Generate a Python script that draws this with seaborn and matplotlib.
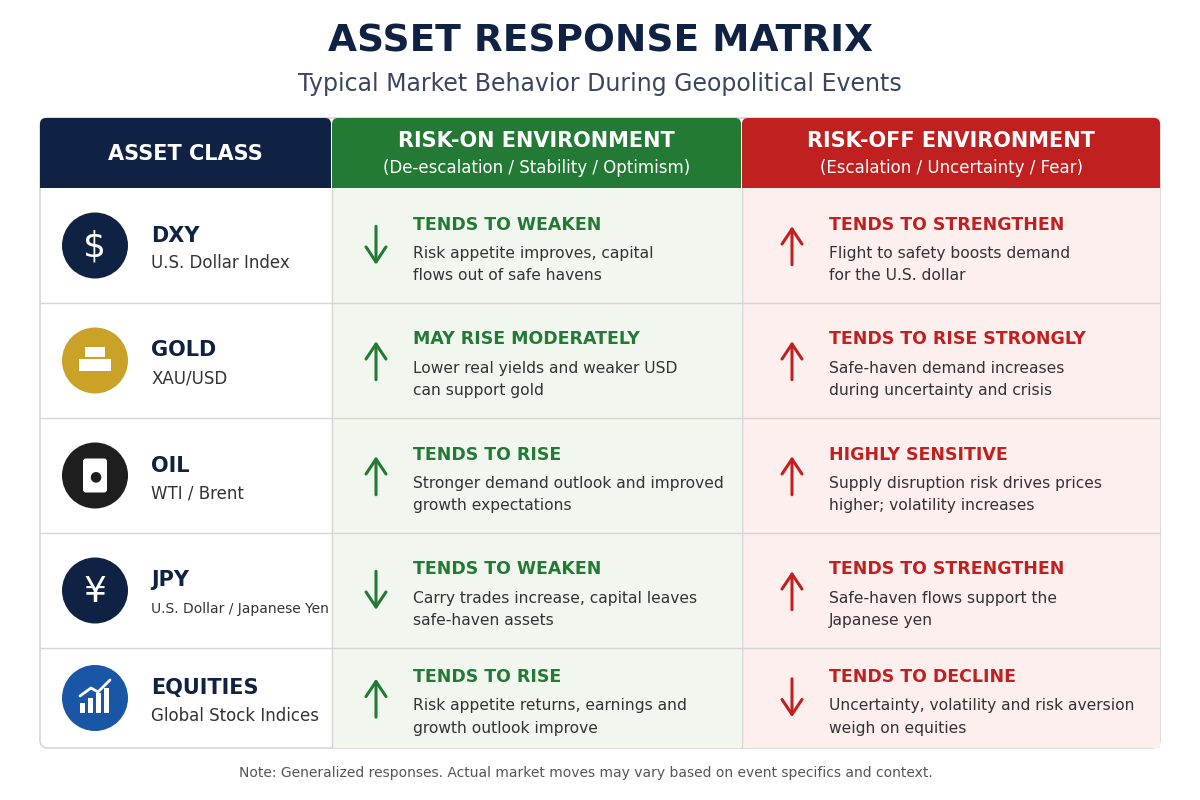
import matplotlib
matplotlib.use("Agg")
import matplotlib.pyplot as plt
from matplotlib.patches import FancyBboxPatch, Rectangle, Circle
import seaborn as sns

##### DADOS #####################################################################
ativos = ["DXY", "GOLD", "OIL", "JPY", "EQUITIES"]
subtitulos = ["U.S. Dollar Index", "XAU/USD", "WTI / Brent",
              "U.S. Dollar / Japanese Yen", "Global Stock Indices"]
icones = ["$", "gold", "oil", "¥", "chart"]
cor_icone = ["#0f2244", "#c9a227", "#1e1e1e", "#0f2244", "#1a56a6"]
on_dir = ["down", "up", "up", "down", "up"]
on_titulo = ["TENDS TO WEAKEN", "MAY RISE MODERATELY", "TENDS TO RISE",
             "TENDS TO WEAKEN", "TENDS TO RISE"]
on_texto = ["Risk appetite improves, capital\nflows out of safe havens",
            "Lower real yields and weaker USD\ncan support gold",
            "Stronger demand outlook and improved\ngrowth expectations",
            "Carry trades increase, capital leaves\nsafe-haven assets",
            "Risk appetite returns, earnings and\ngrowth outlook improve"]
off_dir = ["up", "up", "up", "up", "down"]
off_titulo = ["TENDS TO STRENGTHEN", "TENDS TO RISE STRONGLY", "HIGHLY SENSITIVE",
              "TENDS TO STRENGTHEN", "TENDS TO DECLINE"]
off_texto = ["Flight to safety boosts demand\nfor the U.S. dollar",
             "Safe-haven demand increases\nduring uncertainty and crisis",
             "Supply disruption risk drives prices\nhigher; volatility increases",
             "Safe-haven flows support the\nJapanese yen",
             "Uncertainty, volatility and risk aversion\nweigh on equities"]

##### ESTILO ####################################################################
sns.set_theme(style="white")
plt.rcParams["font.family"] = ["DejaVu Sans"]
NAVY, VERDE, VERMELHO = "#0f2244", "#237a35", "#c0201f"
TXT = "#333333"

fig = plt.figure(figsize=(12, 8), dpi=100)
ax = fig.add_axes([0, 0, 1, 1])
ax.set_xlim(0, 1200)
ax.set_ylim(800, 0)
ax.axis("off")

ax.text(600, 42, "ASSET RESPONSE MATRIX", ha="center", va="center",
        fontsize=27, weight="bold", color=NAVY)
ax.text(600, 84, "Typical Market Behavior During Geopolitical Events",
        ha="center", va="center", fontsize=17, color="#3a4660")

# moldura
ax.add_patch(FancyBboxPatch((40, 118), 1120, 630, boxstyle="round,pad=0,rounding_size=8",
                            fc="white", ec="#d5d5d5", lw=1.2, zorder=0))
cols = [(40, 331), (332, 741), (742, 1160)]
headers = [(NAVY, "ASSET CLASS", None),
           (VERDE, "RISK-ON ENVIRONMENT", "(De-escalation / Stability / Optimism)"),
           (VERMELHO, "RISK-OFF ENVIRONMENT", "(Escalation / Uncertainty / Fear)")]
for (x0, x1), (cor, t, s) in zip(cols, headers):
    ax.add_patch(FancyBboxPatch((x0, 118), x1 - x0, 70, boxstyle="round,pad=0,rounding_size=6",
                                fc=cor, ec="none", zorder=1))
    ax.add_patch(Rectangle((x0, 160), x1 - x0, 28, fc=cor, ec="none", zorder=1))
    xc = (x0 + x1) / 2
    if s is None:
        ax.text(xc, 154, t, ha="center", va="center", color="white", fontsize=15, weight="bold", zorder=2)
    else:
        ax.text(xc, 141, t, ha="center", va="center", color="white", fontsize=15, weight="bold", zorder=2)
        ax.text(xc, 168, s, ha="center", va="center", color="white", fontsize=12, zorder=2)

ax.add_patch(Rectangle((332, 188), 409, 560, fc="#f1f7ef", ec="none", zorder=0.5))
ax.add_patch(Rectangle((742, 188), 418, 560, fc="#fcefee", ec="none", zorder=0.5))
for xv in (331.5, 741.5):
    ax.plot([xv, xv], [188, 748], color="#d5d5d5", lw=1, zorder=1)

linhas = [188, 303, 418, 533, 648, 748]


def seta(x, yc, direcao, cor):
    y0, y1 = (yc - 22, yc + 22) if direcao == "down" else (yc + 22, yc - 22)
    ax.annotate("", xy=(x, y1), xytext=(x, y0), zorder=3,
                arrowprops=dict(arrowstyle="->,head_length=0.9,head_width=0.6", color=cor, lw=2.2))


for i in range(len(ativos)):
    ya, yb = linhas[i], linhas[i + 1]
    yc = (ya + yb) / 2
    if i < len(ativos) - 1:
        ax.plot([40, 1160], [yb, yb], color="#d5d5d5", lw=1, zorder=1)
    # icone
    ax.add_patch(Circle((95, yc), 33, fc=cor_icone[i], ec="none", zorder=2))
    ic = icones[i]
    if ic in ("$", "¥"):
        ax.text(95, yc + 1, ic, ha="center", va="center", color="white", fontsize=26, zorder=3)
    elif ic == "gold":
        ax.add_patch(Rectangle((79, yc - 2), 32, 12, fc="white", ec="none", zorder=3))
        ax.add_patch(Rectangle((85, yc - 14), 20, 10, fc="white", ec="none", zorder=3))
    elif ic == "oil":
        ax.add_patch(FancyBboxPatch((83, yc - 17), 24, 34, boxstyle="round,pad=0,rounding_size=3",
                                    fc="white", ec="none", zorder=3))
        ax.text(95, yc + 1, "●", ha="center", va="center", color=cor_icone[i], fontsize=10, zorder=4)
    else:
        for k, h in enumerate([10, 15, 20, 25]):
            ax.add_patch(Rectangle((80 + k * 8, yc + 15 - h), 5, h, fc="white", ec="none", zorder=3))
        ax.plot([80, 91, 98, 110], [yc - 2, yc - 10, yc - 6, yc - 18], color="white", lw=2, zorder=3)
    ax.text(151, yc - 10, ativos[i], ha="left", va="center", fontsize=15, weight="bold", color=NAVY)
    ax.text(151, yc + 18, subtitulos[i], ha="left", va="center",
            fontsize=10 if len(subtitulos[i]) > 20 else 12, color=TXT)
    # risk-on
    seta(376, yc, on_dir[i], VERDE)
    ax.text(413, yc - 21, on_titulo[i], ha="left", va="center", fontsize=12.5, weight="bold", color=VERDE)
    ax.text(413, yc + 19, on_texto[i], ha="left", va="center", fontsize=11.2, color=TXT, linespacing=1.6)
    # risk-off
    seta(792, yc, off_dir[i], VERMELHO)
    ax.text(829, yc - 21, off_titulo[i], ha="left", va="center", fontsize=12.5, weight="bold", color=VERMELHO)
    ax.text(829, yc + 19, off_texto[i], ha="left", va="center", fontsize=11.2, color=TXT, linespacing=1.6)

ax.text(586, 773, "Note: Generalized responses. Actual market moves may vary based on event specifics and context.",
        ha="center", va="center", fontsize=10, color="#555555")

fig.savefig("out.png", dpi=100, facecolor="white")
